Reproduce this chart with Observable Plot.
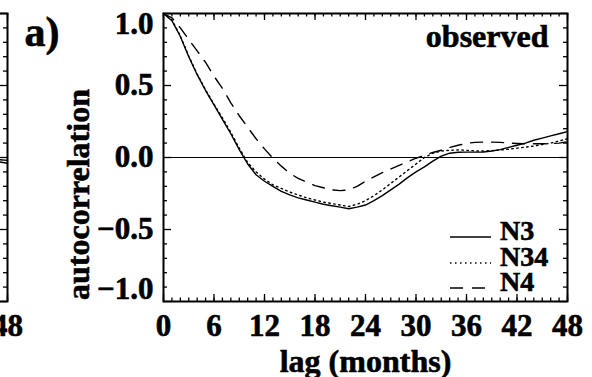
<!DOCTYPE html>
<html>
<head>
<meta charset="utf-8">
<script src="https://cdn.jsdelivr.net/npm/d3@7"></script>
<script src="https://cdn.jsdelivr.net/npm/@observablehq/plot@0.6"></script>
<style>
  html, body { margin: 0; padding: 0; background: #fff; }
  #fig { position: relative; width: 592px; height: 377px; overflow: hidden; background: #fff; }
  #fig svg { position: absolute; top: 0; max-width: none !important; }
</style>
</head>
<body>
<div id="fig"></div>
<script>
// Lag in months
const lags = [0, 1, 2, 3, 4, 5, 6, 7, 8, 9, 10, 11, 12, 13, 14, 15, 16, 17, 18, 19, 20,
  21, 22, 23, 24, 25, 26, 27, 28, 29, 30, 31, 32, 33, 34, 35, 36, 37, 38, 39, 40,
  41, 42, 43, 44, 45, 46, 47, 48];

// Observed autocorrelation of the Niño indices
const n3 = [1.00, 0.95, 0.84, 0.70, 0.575, 0.465, 0.365, 0.265, 0.165, 0.055,
  -0.045, -0.12, -0.165, -0.20, -0.235, -0.26, -0.28, -0.295, -0.31, -0.325,
  -0.335, -0.345, -0.356, -0.345, -0.33, -0.30, -0.265, -0.225, -0.185, -0.14,
  -0.10, -0.065, -0.025, 0.01, 0.03, 0.036, 0.037, 0.037, 0.038, 0.045,
  0.055, 0.07, 0.085, 0.10, 0.12, 0.135, 0.15, 0.165, 0.18];
const n34 = [1.00, 0.955, 0.845, 0.705, 0.58, 0.47, 0.37, 0.275, 0.175, 0.065,
  -0.035, -0.10, -0.15, -0.19, -0.215, -0.24, -0.26, -0.28, -0.295, -0.31,
  -0.32, -0.33, -0.34, -0.325, -0.30, -0.265, -0.225, -0.18, -0.135, -0.09,
  -0.045, 0.0, 0.03, 0.045, 0.05, 0.053, 0.05, 0.046, 0.045, 0.048,
  0.052, 0.058, 0.065, 0.072, 0.08, 0.09, 0.10, 0.115, 0.13];
const n4 = [1.00, 0.97, 0.90, 0.82, 0.74, 0.66, 0.565, 0.48, 0.38, 0.29,
  0.21, 0.13, 0.06, -0.005, -0.06, -0.11, -0.145, -0.17, -0.195, -0.21,
  -0.225, -0.23, -0.225, -0.20, -0.165, -0.135, -0.105, -0.08, -0.055, -0.03,
  -0.005, 0.015, 0.035, 0.05, 0.07, 0.085, 0.098, 0.105, 0.107, 0.107,
  0.105, 0.10, 0.097, 0.095, 0.095, 0.095, 0.097, 0.10, 0.11];

// Tail of the neighbouring panel's curves
const tailLags = [46, 47, 48];
const tailA = [-0.025, -0.03, -0.04];
const tailB = [-0.01, -0.015, -0.02];

const seriesNames = ["N3", "N34", "N4"];
const xTicks = [0, 6, 12, 18, 24, 30, 36, 42, 48];
const xTickLabels = ["0", "6", "12", "18", "24", "30", "36", "42", "48"];
const yTicks = [-1.0, -0.5, 0.0, 0.5, 1.0];
const yTickLabels = ["\u22121.0", "\u22120.5", "0.0", "0.5", "1.0"];
const xMinor = lags;
const yMinor = [-0.9, -0.8, -0.7, -0.6, -0.4, -0.3, -0.2, -0.1, 0.1, 0.2, 0.3, 0.4, 0.6, 0.7, 0.8, 0.9];
const panelLabel = "a)";
const panelTitle = "observed";
const xLabel = "lag (months)";
const yLabel = "autocorrelation";

const seriesValues = [n3, n34, n4];
const rows = seriesNames.flatMap((name, k) =>
  lags.map((lag, i) => ({series: name, lag, r: seriesValues[k][i]})));
const tailRows = [tailA, tailB].flatMap((vals, k) =>
  tailLags.map((lag, i) => ({series: k, lag, r: vals[i]})));

const dashes = {N3: null, N34: "1.5,3.5", N4: "12,9"};

const W = 592, H = 377;
const mL = 163, mR = 25, mT = 13, mB = 76;
const innerW = W - mL - mR, innerH = H - mT - mB;
const serif = "'Liberation Serif', 'Times New Roman', Times, serif";
const fsTick = 31, fsTitle = 32;

function frameTicks(iw, ih, sides) {
  const m = [];
  const tk = {stroke: "black", strokeWidth: 1.3};
  if (sides.includes("bottom")) {
    m.push(Plot.tickX(xMinor, {x: d => d, insetTop: ih - 3.5, ...tk}));
    m.push(Plot.tickX(xTicks, {x: d => d, insetTop: ih - 7, ...tk}));
  }
  if (sides.includes("top")) {
    m.push(Plot.tickX(xMinor, {x: d => d, insetBottom: ih - 3.5, ...tk}));
    m.push(Plot.tickX(xTicks, {x: d => d, insetBottom: ih - 7, ...tk}));
  }
  if (sides.includes("left")) {
    m.push(Plot.tickY(yMinor, {y: d => d, insetRight: iw - 4, ...tk}));
    m.push(Plot.tickY(yTicks, {y: d => d, insetRight: iw - 8, ...tk}));
  }
  if (sides.includes("right")) {
    m.push(Plot.tickY(yMinor, {y: d => d, insetLeft: iw - 4, ...tk}));
    m.push(Plot.tickY(yTicks, {y: d => d, insetLeft: iw - 8, ...tk}));
  }
  return m;
}

// Heavy serif lettering
const txt = {fontFamily: serif, fontWeight: "bold", fill: "black", stroke: "black", strokeWidth: 0.6};

const main = Plot.plot({
  width: W, height: H,
  marginLeft: mL, marginRight: mR, marginTop: mT, marginBottom: mB,
  x: {domain: [0, 48], axis: null},
  y: {domain: [-1, 1], axis: null},
  style: {background: "none", overflow: "visible"},
  marks: [
    Plot.ruleY([0], {stroke: "black", strokeWidth: 1.2}),
    ...seriesNames.map(name => Plot.line(rows.filter(d => d.series === name), {
      x: "lag", y: "r", stroke: "black", strokeWidth: 1.4,
      strokeDasharray: dashes[name]
    })),
    ...frameTicks(innerW, innerH, ["bottom", "top", "left", "right"]),
    Plot.frame({stroke: "black", strokeWidth: 2}),
    // x tick labels
    Plot.text(xTicks, {x: d => d, text: (d, i) => xTickLabels[i], frameAnchor: "bottom",
      textAnchor: "middle", lineAnchor: "top", dy: 12, fontSize: fsTick, ...txt}),
    // y tick labels: interior ones centred on their tick, end ones pulled inward
    Plot.text(yTicks.slice(1, -1), {y: d => d, text: (d, i) => yTickLabels[i + 1],
      frameAnchor: "left", textAnchor: "end", lineAnchor: "middle", dx: -10, fontSize: fsTick, ...txt}),
    Plot.text([yTicks[yTicks.length - 1]], {y: d => d, text: [yTickLabels[yTickLabels.length - 1]],
      frameAnchor: "left", textAnchor: "end", lineAnchor: "middle", dx: -10, dy: 11, fontSize: fsTick, ...txt}),
    Plot.text([yTicks[0]], {y: d => d, text: [yTickLabels[0]],
      frameAnchor: "left", textAnchor: "end", lineAnchor: "middle", dx: -10, dy: -12, fontSize: fsTick, ...txt}),
    // axis titles
    Plot.text([xLabel], {frameAnchor: "bottom", textAnchor: "middle", lineAnchor: "middle",
      dy: 60, fontSize: fsTitle, ...txt}),
    Plot.text([yLabel], {frameAnchor: "left", textAnchor: "middle", lineAnchor: "middle",
      dx: -84.5, dy: 37, rotate: -90, fontSize: fsTitle, ...txt}),
    // panel annotations
    Plot.text([panelLabel], {frameAnchor: "top-left", textAnchor: "start", lineAnchor: "top",
      dx: 24 - mL, dy: 3, fontSize: 42, ...txt}),
    Plot.text([panelTitle], {frameAnchor: "top-right", textAnchor: "end", lineAnchor: "top",
      dx: -19, dy: 11, fontSize: fsTitle, ...txt})
  ]
});
main.style.left = "0px";

// Neighbouring panel: only its right edge shows at the left of the figure
const lW = 420, lM = 8;
const left = Plot.plot({
  width: lW, height: H,
  marginLeft: lM, marginRight: lM, marginTop: mT, marginBottom: mB,
  x: {domain: [0, 48], axis: null},
  y: {domain: [-1, 1], axis: null},
  style: {background: "none", overflow: "visible"},
  marks: [
    ...[0, 1].map(k => Plot.line(tailRows.filter(d => d.series === k), {
      x: "lag", y: "r", stroke: "black", strokeWidth: 1.4
    })),
    ...frameTicks(lW - 2 * lM, innerH, ["bottom", "top", "right"]),
    Plot.frame({stroke: "black", strokeWidth: 2}),
    Plot.text([xTicks[xTicks.length - 1]], {x: d => d, text: [xTickLabels[xTickLabels.length - 1]],
      frameAnchor: "bottom", textAnchor: "middle", lineAnchor: "top", dy: 12, fontSize: fsTick, ...txt})
  ]
});
left.style.left = (7 - (lW - lM)) + "px";

const fig = document.getElementById("fig");
fig.appendChild(left);
fig.appendChild(main);

// Legend: line samples with series names, inside the lower right of the plot
const leg = d3.select(fig).append("svg")
  .attr("width", W).attr("height", H)
  .style("left", "0px").style("pointer-events", "none");
const legRowY = [237, 263, 288];
seriesNames.forEach((name, i) => {
  leg.append("line")
    .attr("x1", 450).attr("x2", 491)
    .attr("y1", legRowY[i]).attr("y2", legRowY[i])
    .attr("stroke", "black").attr("stroke-width", 1.4)
    .attr("stroke-dasharray", name === "N4" ? "13,9" : dashes[name]);
  leg.append("text")
    .attr("x", 500).attr("y", legRowY[i] + 2.5)
    .attr("font-family", serif).attr("font-weight", "bold").attr("font-size", 28)
    .attr("fill", "black").attr("stroke", "black").attr("stroke-width", 0.6)
    .text(name);
});
</script>
</body>
</html>
